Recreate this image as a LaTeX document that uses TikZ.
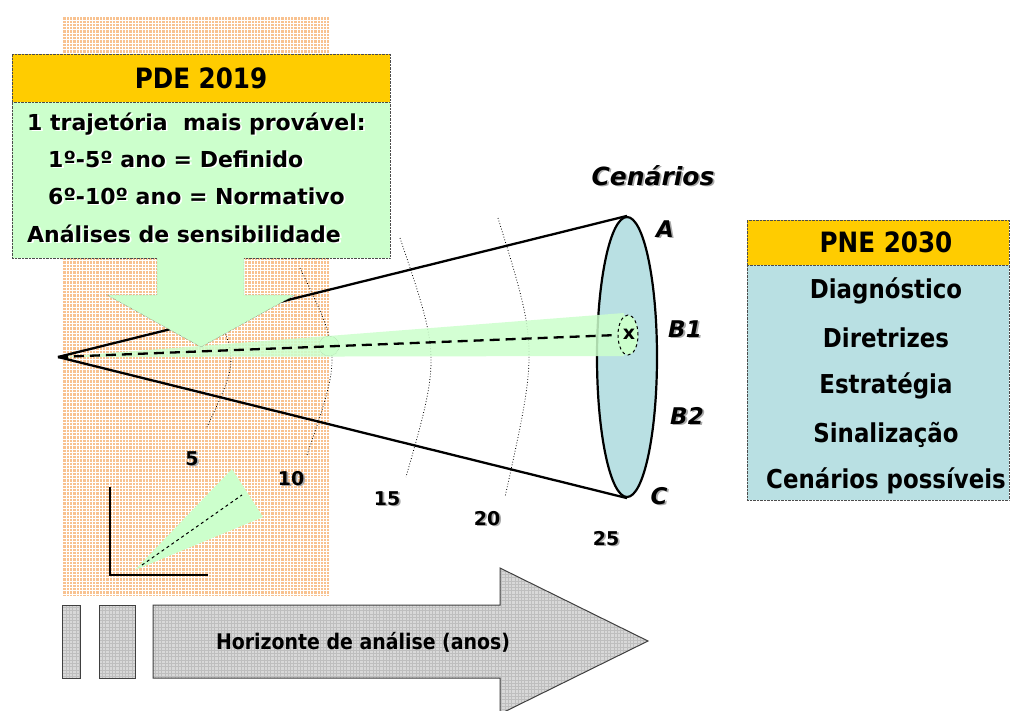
\documentclass[tikz,border=0pt]{standalone}
\usepackage{fontspec}
\setmainfont{DejaVu Sans}
\newfontfamily\cond[FakeStretch=0.88]{DejaVu Sans}
\usetikzlibrary{shapes.geometric}
\definecolor{gold}{HTML}{FFCC00}
\definecolor{lgreen}{HTML}{CCFFCC}
\definecolor{lblue}{HTML}{B9E0E3}
\definecolor{orangebg}{HTML}{F8C290}
\definecolor{shadowc}{HTML}{AAAAAA}
\definecolor{greybox}{HTML}{D8D8D8}
\definecolor{greyline}{HTML}{BEBEBE}
\newcommand{\shd}[2][shadowc]{\rlap{\kern1.8pt\raisebox{-1.8pt}{\color{#1}#2}}#2}
\begin{document}
\begin{tikzpicture}[x=1pt,y=-1pt,
  hdr/.style={draw=black!70, densely dotted, fill=gold, inner sep=0pt, font={\cond\bfseries\fontsize{28}{32}\selectfont}},
  pdebody/.style={draw=black!70, densely dotted, fill=lgreen, inner sep=0pt},
  pnebody/.style={draw=black!70, densely dotted, fill=lblue, inner sep=0pt},
  pdeline/.style={anchor=base west, inner sep=0pt, font={\bfseries\fontsize{22}{26}\selectfont}},
  pneline/.style={anchor=base, inner sep=0pt, font={\cond\bfseries\fontsize{26}{30}\selectfont}},
  numlbl/.style={anchor=base, inner sep=0pt, font={\bfseries\fontsize{19}{22}\selectfont}},
  scnlbl/.style={anchor=base, inner sep=0pt, font={\bfseries\itshape\fontsize{23}{26}\selectfont}},
  arcline/.style={dotted, line width=0.8pt},
  cone/.style={line width=2.3pt},
  dline/.style={line width=2.3pt, dash pattern=on 10pt off 6pt},
  greyshape/.style={draw=black!75, line width=1pt},
]
\useasboundingbox (0,0) rectangle (1010,710);
\fill[white] (0,0) rectangle (1010,710);

% orange background
\fill[orangebg] (62,16) rectangle (329,596);
\draw[white, line width=0.6pt, step=3.3pt] (62,16) grid (329,596);

% dotted year arcs
\draw[arcline] (212,300) .. controls (238,361) .. (207,427);
\draw[arcline] (300,268) .. controls (341.5,354) .. (307,455);
\draw[arcline] (400,238) .. controls (440.3,357) .. (406,477);
\draw[arcline] (498,218) .. controls (538.2,347.5) .. (505,497);

% cone
\coordinate (apex) at (58,357);
\node[ellipse, draw, line width=2.2pt, fill=lblue, minimum width=60pt, minimum height=280pt, inner sep=0pt] (disk) at (627,357) {};
\draw[cone] (apex) -- (disk.north);
\draw[cone] (apex) -- (disk.south);

% green trajectory band
\fill[lgreen, opacity=0.85] (apex) -- (624,313) -- (624,356) -- cycle;
\node[circle, minimum size=20pt, fill=lgreen, draw=green!40!black!40, densely dotted, inner sep=0pt] (m10) at (329,346) {};
\node[ellipse, draw, dashed, line width=1pt, fill=lgreen, minimum width=20pt, minimum height=40pt, inner sep=0pt] (bm) at (628,335) {};
\node[inner sep=0pt, font={\bfseries\fontsize{19}{20}\selectfont}] (xm) at (629,334) {x};
\draw[dline] (apex) -- (bm.west);

% PDE box
\node[hdr, minimum width=378pt, minimum height=48pt] (pdeh) at (201,78) {PDE 2019};
\node[pdebody, minimum width=378pt, minimum height=156pt] (pdeb) at (201,180) {};
\fill[lgreen] (157,256) -- (157,295) -- (107,295) -- (201,347) -- (295,295) -- (244,295) -- (244,256) -- cycle;
\draw[black!70, densely dotted] (157,258) -- (157,295) -- (107,295) -- (201,347) -- (295,295) -- (244,295) -- (244,258);
\node[pdeline] (l1) at (27,130) {\shd[white]{1 trajetória\ \ mais provável:}};
\node[pdeline] (l2) at (48,167) {\shd[white]{1º-5º ano = Definido}};
\node[pdeline] (l3) at (48,204) {\shd[white]{6º-10º ano = Normativo}};
\node[pdeline] (l4) at (27,242) {\shd[white]{Análises de sensibilidade}};

% inset
\coordinate (iy) at (110,487);
\coordinate (io) at (110,575);
\coordinate (ix) at (208,575);
\fill[lgreen] (135,570) -- (232,469) -- (263,517) -- cycle;
\draw[dashed, line width=1pt] (142,565) -- (242,495);
\draw[line width=2.6pt] (iy) -- (io) -- (ix);

% year numbers
\node[numlbl] (n5) at (192,465) {\shd{5}};
\node[numlbl] (n10) at (291,485) {\shd{10}};
\node[numlbl] (n15) at (387,505) {\shd{15}};
\node[numlbl] (n20) at (487,525) {\shd{20}};
\node[numlbl] (n25) at (606,545) {\shd{25}};

% scenario labels
\node[anchor=base, inner sep=0pt, font={\bfseries\itshape\fontsize{25}{28}\selectfont}] (cen) at (653,185) {\shd{Cenários}};
\node[scnlbl] (la) at (665,237) {\shd{A}};
\node[scnlbl] (lb1) at (685,337) {\shd{B1}};
\node[scnlbl] (lb2) at (687,424) {\shd{B2}};
\node[scnlbl] (lc) at (659,504) {\shd{C}};

% PNE box
\node[hdr, minimum width=262pt, minimum height=45pt] (pneh) at (878,242.5) {\hspace*{16pt}PNE 2030};
\node[pnebody, minimum width=262pt, minimum height=235pt] (pneb) at (878,382.5) {};
\node[pneline] (p1) at (886,298) {Diagnóstico};
\node[pneline] (p2) at (886,347) {Diretrizes};
\node[pneline] (p3) at (886,393) {Estratégia};
\node[pneline] (p4) at (886,442) {Sinalização};
\node[pneline] (p5) at (886,488) {Cenários possíveis};

% bottom grey blocks and arrow
\begin{scope}
\clip (0,0) rectangle (1010,710);
\fill[greybox] (62,605) rectangle (80,678);
\fill[greybox] (99,605) rectangle (135,678);
\fill[greybox] (153,605) -- (500,605) -- (500,568) -- (648,641) -- (500,714) -- (500,678) -- (153,678) -- cycle;
\begin{scope}
\clip (62,605) rectangle (80,678) (99,605) rectangle (135,678)
  (153,605) -- (500,605) -- (500,568) -- (648,641) -- (500,714) -- (500,678) -- (153,678) -- cycle;
\draw[greyline, line width=0.5pt, step=3.3pt] (60,566) grid (650,712);
\end{scope}
\draw[greyshape] (62,605) rectangle (80,678);
\draw[greyshape] (99,605) rectangle (135,678);
\draw[greyshape] (153,605) -- (500,605) -- (500,568) -- (648,641) -- (500,714) -- (500,678) -- (153,678) -- cycle;
\end{scope}
\node[anchor=base, inner sep=0pt, font={\cond\bfseries\fontsize{21.5}{24}\selectfont}] (hz) at (363,649) {Horizonte de análise (anos)};
\end{tikzpicture}
\end{document}
